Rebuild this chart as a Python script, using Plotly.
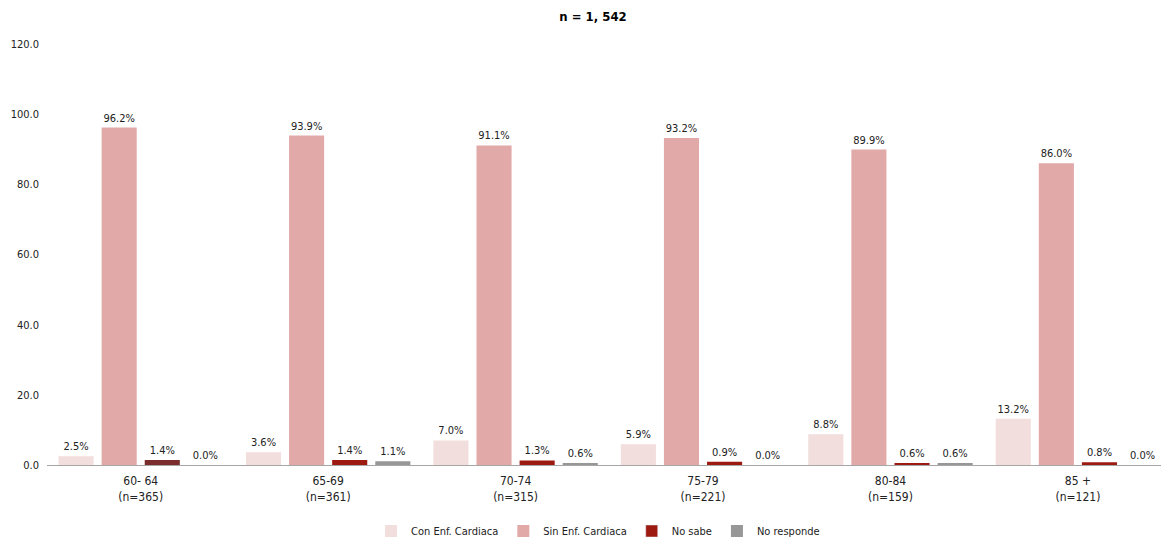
import plotly.graph_objects as go

categories = ["60- 64<br>(n=365)", "65-69<br>(n=361)", "70-74<br>(n=315)",
              "75-79<br>(n=221)", "80-84<br>(n=159)", "85 +<br>(n=121)"]
con_enf = [2.5, 3.6, 7.0, 5.9, 8.8, 13.2]
sin_enf = [96.2, 93.9, 91.1, 93.2, 89.9, 86.0]
no_sabe = [1.4, 1.4, 1.3, 0.9, 0.6, 0.8]
no_responde = [0.0, 1.1, 0.6, 0.0, 0.6, 0.0]
y_ticks = [0, 20, 40, 60, 80, 100, 120]

FONT = "DejaVu Sans Condensed, Liberation Sans Narrow, sans-serif"

no_sabe_colors = ["#7B2C2C"] + ["#9C1A10"] * 5

series = [
    ("Con Enf. Cardiaca", con_enf, "#F2DEDD", True, "a"),
    ("Sin Enf. Cardiaca", sin_enf, "#E1A9A7", True, "b"),
    ("No sabe", no_sabe, no_sabe_colors, False, "c"),
    ("No responde", no_responde, "#979797", True, "d"),
]

W, H = 1169, 543
OFF = 8  # page body margin offset in the browser
fig = go.Figure()
for i, (name, vals, color, show, grp) in enumerate(series):
    fig.add_trace(go.Bar(
        x=categories, y=vals, name=name, showlegend=show, legendrank=i + 1,
        offsetgroup=grp,
        marker=dict(color=color, line=dict(width=0)),
        text=vals, texttemplate="%{y:.1f}%", textposition="outside",
        constraintext="none",
        textfont=dict(size=11, color="#222222", family=FONT),
        cliponaxis=False,
    ))
# legend entry for No sabe (single colour), sharing the No sabe slot
fig.add_trace(go.Bar(x=[None], y=[None], name="No sabe", marker_color="#9C1A10",
                     offsetgroup="c", legendrank=3))

fig.update_layout(
    width=W, height=H,
    margin=dict(l=0, r=0, t=0, b=0),
    paper_bgcolor="white", plot_bgcolor="white",
    font=dict(family=FONT, size=11, color="#222222"),
    uniformtext=dict(mode=False),
    title=dict(text="<b>n = 1, 542</b>", x=(593 - OFF) / W, xanchor="center",
               y=1 - (16 - OFF) / H, yanchor="middle", yref="container", xref="container",
               font=dict(size=13, color="#000000", family=FONT)),
    barmode="group", bargap=0.08, bargroupgap=0.186,
    showlegend=True,
    legend=dict(orientation="h", x=(598 - OFF) / W, xanchor="center",
                y=(H - (531 - OFF)) / H, yanchor="middle",
                font=dict(size=11, family=FONT),
                itemwidth=30, traceorder="normal", tracegroupgap=0),
    xaxis=dict(domain=[(47 - OFF) / W, (1166 - OFF) / W], range=[-0.5, 5.47],
               automargin=False, showline=True, linecolor="#A6A6A6", linewidth=1,
               ticks="", ticklabelstandoff=5, tickfont=dict(size=12), showgrid=False),
    yaxis=dict(domain=[(H - (465 - OFF)) / H, (H - (44 - OFF)) / H], range=[0, 120],
               automargin=False, tickvals=y_ticks, tickformat=".1f", showgrid=False,
               zeroline=False, showline=False, ticks="", ticklabelstandoff=7,
               tickfont=dict(size=11)),
)
fig.write_html("out.html")
